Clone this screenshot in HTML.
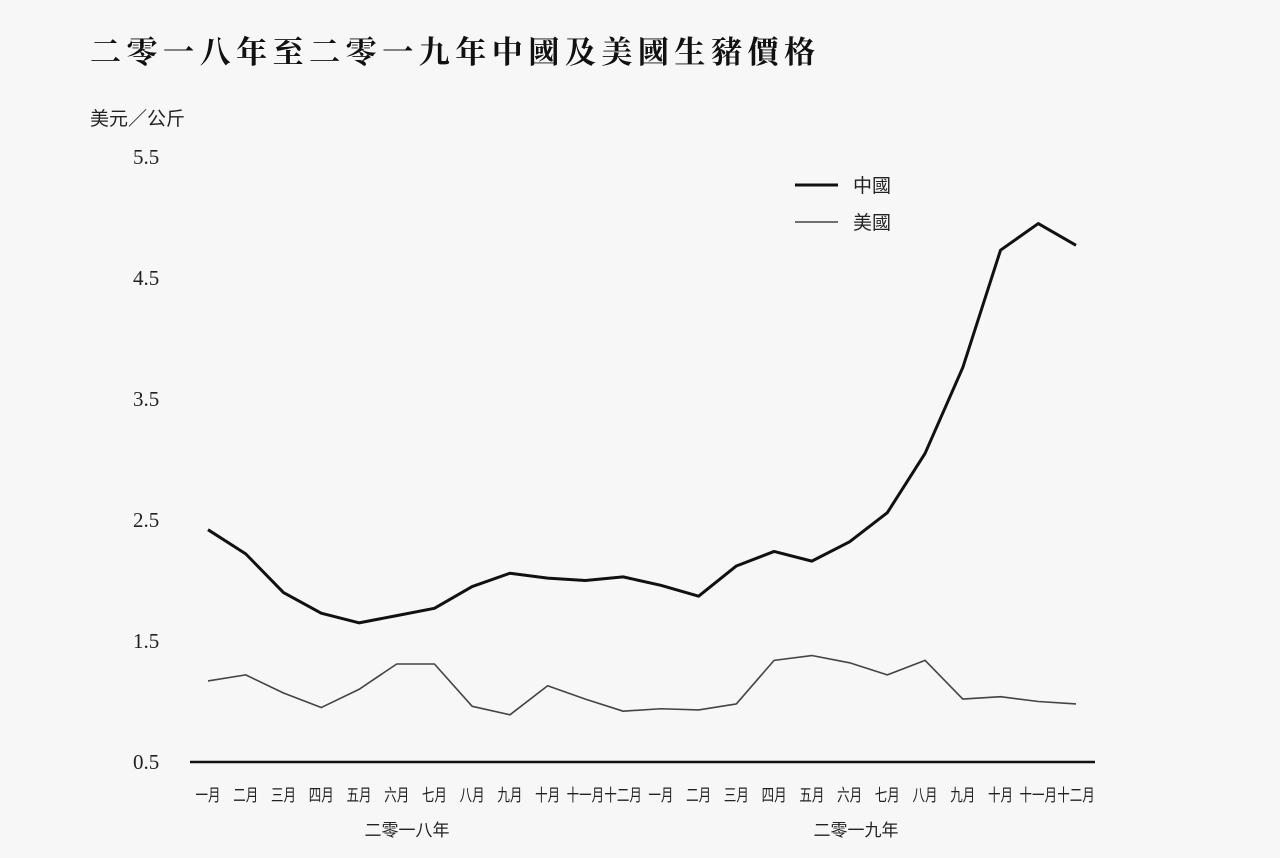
<!DOCTYPE html>
<html><head><meta charset="utf-8"><style>
html,body{margin:0;padding:0;background:#f7f7f7;}
svg{display:block;font-family:"Liberation Serif","Noto Serif CJK SC",serif;}
</style></head><body>
<svg id="chart" width="1280" height="858" viewBox="0 0 1280 858">
<rect width="1280" height="858" fill="#f7f7f7"/>
<text x="90" y="63" font-size="31" font-weight="bold" fill="#111" textLength="725" lengthAdjust="spacing" font-family="'Noto Serif CJK SC',serif">二零一八年至二零一九年中國及美國生豬價格</text>
<text x="90" y="125" font-size="19" fill="#222" font-family="'Noto Sans CJK SC',sans-serif">美元／公斤</text>
<g id="yticks"></g><g id="xticks"></g><g id="lines"></g>
<line x1="190" y1="762" x2="1095" y2="762" stroke="#111" stroke-width="2.5"/>
<g>
<line x1="795" y1="185" x2="838" y2="185" stroke="#111" stroke-width="3"/>
<text x="853" y="192" font-size="19" fill="#222" font-family="'Noto Sans CJK SC',sans-serif">中國</text>
<line x1="795" y1="222" x2="838" y2="222" stroke="#444" stroke-width="1.5"/>
<text x="853" y="229" font-size="19" fill="#222" font-family="'Noto Sans CJK SC',sans-serif">美國</text>
</g>
<text x="407" y="836" font-size="17" fill="#222" text-anchor="middle" font-family="'Noto Sans CJK SC',sans-serif">二零一八年</text>
<text x="856" y="836" font-size="17" fill="#222" text-anchor="middle" font-family="'Noto Sans CJK SC',sans-serif">二零一九年</text>
</svg>
<script>
const months=["一月","二月","三月","四月","五月","六月","七月","八月","九月","十月","十一月","十二月","一月","二月","三月","四月","五月","六月","七月","八月","九月","十月","十一月","十二月"];
const china=[2.42,2.22,1.90,1.73,1.65,1.71,1.77,1.95,2.06,2.02,2.00,2.03,1.96,1.87,2.12,2.24,2.16,2.32,2.56,3.05,3.76,4.73,4.95,4.77];
const us=[1.17,1.22,1.07,0.95,1.10,1.31,1.31,0.96,0.89,1.13,1.02,0.92,0.94,0.93,0.98,1.34,1.38,1.32,1.22,1.34,1.02,1.04,1.00,0.98];
const yTicks=["0.5","1.5","2.5","3.5","4.5","5.5"];
const NS="http://www.w3.org/2000/svg";
const x=i=>208+i*(1076-208)/23;
const y=v=>762-(v-0.5)*121;
const yg=document.getElementById('yticks');
yTicks.forEach(t=>{const e=document.createElementNS(NS,'text');
e.setAttribute('x',133);e.setAttribute('y',y(+t)+7);e.setAttribute('font-size',21);e.setAttribute('fill','#222');


e.textContent=t;yg.appendChild(e);});
const xg=document.getElementById('xticks');
months.forEach((m,i)=>{const e=document.createElementNS(NS,'text');
const w=m.length*12.5;
e.setAttribute('x',x(i)-w/2);e.setAttribute('y',801);e.setAttribute('font-size',17);e.setAttribute('fill','#222');
e.setAttribute('textLength',w);e.setAttribute('lengthAdjust','spacingAndGlyphs');
e.setAttribute('font-family',"'Noto Sans CJK SC',sans-serif");


e.textContent=m;xg.appendChild(e);});
const lg=document.getElementById('lines');
function line(d,w,c,name){const p=document.createElementNS(NS,'polyline');
p.setAttribute('points',d.map((v,i)=>x(i)+','+y(v)).join(' '));
p.setAttribute('fill','none');p.setAttribute('stroke',c);p.setAttribute('stroke-width',w);p.setAttribute('stroke-linejoin','round');


lg.appendChild(p);}
line(china,3,'#111','china-line');
line(us,1.6,'#444','us-line');
</script>
</body></html>
